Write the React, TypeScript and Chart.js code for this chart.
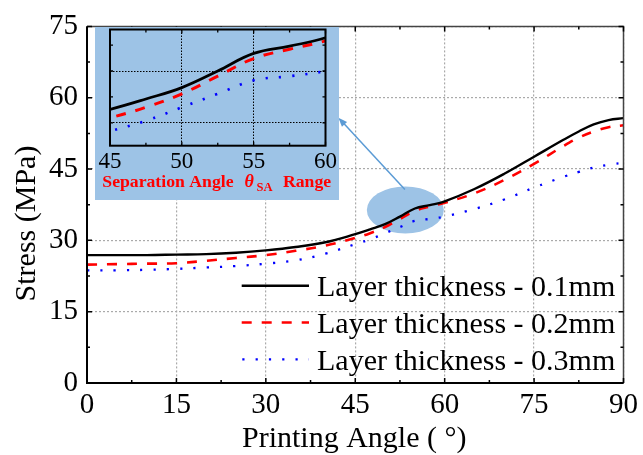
import React, { useEffect, useRef } from "react";
import { Chart, registerables } from "chart.js";

Chart.register(...registerables);

// ---------------- data ----------------
const angles = [0, 5, 10, 15, 20, 25, 30, 35, 40, 45, 47.5, 50, 52.5, 55, 57.5, 60, 65, 70, 75, 80, 82.5, 85, 87.5, 90];
const stress01 = [26.9, 26.9, 26.9, 27.0, 27.1, 27.4, 27.9, 28.6, 29.6, 31.3, 32.3, 33.4, 35.0, 36.7, 37.4, 38.2, 40.8, 44.0, 47.6, 51.2, 52.9, 54.4, 55.3, 55.7];
const stress02 = [24.9, 25.0, 25.1, 25.2, 25.7, 26.3, 26.9, 27.8, 28.9, 30.5, 31.5, 32.8, 34.5, 36.2, 37.1, 37.9, 39.9, 42.7, 46.1, 49.9, 51.6, 52.9, 53.8, 54.2];
const stress03 = [23.7, 23.7, 23.8, 24.0, 24.3, 24.6, 25.1, 25.8, 27.2, 29.2, 30.2, 31.5, 32.8, 34.1, 34.5, 35.0, 36.6, 38.6, 41.1, 43.4, 44.4, 45.3, 45.9, 46.3];
const seriesLabels = ["Layer thickness - 0.1mm", "Layer thickness - 0.2mm", "Layer thickness - 0.3mm"];

const xMin = 0, xMax = 90, xStep = 15, xMinorStep = 7.5;
const yMin = 0, yMax = 75, yStep = 15, yMinorStep = 7.5;

const insetXMin = 45, insetXMax = 60, insetXStep = 5, insetXMinorStep = 2.5;
const insetYMin = 27.8, insetYMax = 39;
const insetYTicks = [30, 35];
const insetYMinorTicks = [32.5, 37.5];

const highlightCenter = { x: 53.4, y: 36.4 };
const arrowFrom = { x: 53.33, y: 40.7 };
const arrowTo = { x: 42.17, y: 55.8 };

const xTitle = "Printing Angle ( °)";
const yTitle = "Stress (MPa)";
const captionMain = "Separation Angle";
const captionTheta = "θ";
const captionSub = "SA";
const captionEnd = "Range";

const FONT = "'Liberation Serif', 'Times New Roman', Times, serif";
const BLUE_BG = "#9dc3e6";

const styles = [
  { color: "#000000", dash: [] as number[], width: 2.4 },
  { color: "#ff0000", dash: [10, 10], width: 2.6 },
  { color: "#0000ff", dash: [2.2, 11.1], width: 2.3 },
];
const seriesData = [stress01, stress02, stress03];

function makeDatasets(widthScale: number) {
  return seriesData.map((vals, i) => ({
    label: seriesLabels[i],
    data: angles.map((a, j) => ({ x: a, y: vals[j] })),
    borderColor: styles[i].color,
    backgroundColor: styles[i].color,
    borderDash: styles[i].dash,
    borderWidth: styles[i].width * widthScale,
    borderCapStyle: "butt" as const,
    pointRadius: 0,
    fill: false,
    tension: 0.4,
  }));
}

function range(a: number, b: number, s: number) {
  const out: number[] = [];
  for (let v = a; v <= b + 1e-9; v += s) out.push(Math.round(v * 1000) / 1000);
  return out;
}

const mainPlugin = {
  id: "mainDecor",
  beforeDatasetsDraw(chart: any) {
    const { ctx, scales } = chart;
    const cx = scales.x.getPixelForValue(highlightCenter.x);
    const cy = scales.y.getPixelForValue(highlightCenter.y);
    ctx.save();
    ctx.fillStyle = BLUE_BG;
    ctx.beginPath();
    ctx.ellipse(cx, cy, 38.5, 23.5, 0, 0, Math.PI * 2);
    ctx.fill();
    ctx.restore();
  },
  afterDatasetsDraw(chart: any) {
    const { ctx, scales, chartArea } = chart;
    const { left, right, top, bottom } = chartArea;
    ctx.save();
    // frame
    ctx.lineWidth = 1.5;
    ctx.strokeStyle = "#444";
    ctx.beginPath();
    ctx.moveTo(left, top);
    ctx.lineTo(right, top);
    ctx.lineTo(right, bottom);
    ctx.stroke();
    ctx.lineWidth = 2;
    ctx.strokeStyle = "#000";
    ctx.beginPath();
    ctx.moveTo(left, top);
    ctx.lineTo(left, bottom);
    ctx.lineTo(right, bottom);
    ctx.stroke();
    // ticks
    ctx.lineWidth = 1.5;
    ctx.strokeStyle = "#000";
    ctx.beginPath();
    range(xMin, xMax, xMinorStep).forEach((v) => {
      const px = scales.x.getPixelForValue(v);
      const len = Math.abs(v % xStep) < 1e-6 ? 5 : 3;
      ctx.moveTo(px, bottom);
      ctx.lineTo(px, bottom - len);
      ctx.moveTo(px, top);
      ctx.lineTo(px, top + len);
    });
    range(yMin, yMax, yMinorStep).forEach((v) => {
      const py = scales.y.getPixelForValue(v);
      const len = Math.abs(v % yStep) < 1e-6 ? 5 : 3;
      ctx.moveTo(left, py);
      ctx.lineTo(left + len, py);
      ctx.moveTo(right, py);
      ctx.lineTo(right - len, py);
    });
    ctx.stroke();

    // arrow
    const x1 = scales.x.getPixelForValue(arrowFrom.x);
    const y1 = scales.y.getPixelForValue(arrowFrom.y);
    const x2 = scales.x.getPixelForValue(arrowTo.x);
    const y2 = scales.y.getPixelForValue(arrowTo.y);
    const ang = Math.atan2(y2 - y1, x2 - x1);
    ctx.strokeStyle = "#5b9bd5";
    ctx.fillStyle = "#5b9bd5";
    ctx.lineWidth = 1.5;
    ctx.beginPath();
    ctx.moveTo(x1, y1);
    ctx.lineTo(x2 - 6 * Math.cos(ang), y2 - 6 * Math.sin(ang));
    ctx.stroke();
    ctx.beginPath();
    ctx.moveTo(x2, y2);
    ctx.lineTo(x2 - 9 * Math.cos(ang) + 3.5 * Math.sin(ang), y2 - 9 * Math.sin(ang) - 3.5 * Math.cos(ang));
    ctx.lineTo(x2 - 9 * Math.cos(ang) - 3.5 * Math.sin(ang), y2 - 9 * Math.sin(ang) + 3.5 * Math.cos(ang));
    ctx.closePath();
    ctx.fill();

    // legend
    const rowY0 = 285.7;
    const rowGap = 36.8;
    ctx.font = `30px ${FONT}`;
    ctx.textAlign = "left";
    ctx.textBaseline = "alphabetic";
    seriesLabels.forEach((lab, i) => {
      const yy = rowY0 + i * rowGap;
      ctx.strokeStyle = styles[i].color;
      ctx.lineWidth = styles[i].width;
      ctx.setLineDash(styles[i].dash);
      ctx.lineCap = "butt";
      ctx.beginPath();
      ctx.moveTo(i === 2 ? 242.3 : 241.7, yy);
      ctx.lineTo(309, yy);
      ctx.stroke();
      ctx.setLineDash([]);
      ctx.fillStyle = "#000";
      ctx.fillText(lab, 317, yy + 10.5);
    });

    // axis titles
    ctx.fillStyle = "#000";
    ctx.font = `30px ${FONT}`;
    ctx.textAlign = "center";
    ctx.fillText(xTitle, (left + right) / 2 - 1, 447);
    ctx.translate(34.5, 223.5);
    ctx.rotate(-Math.PI / 2);
    ctx.fillText(yTitle, 0, 0);
    ctx.restore();
  },
};

const insetPlugin = {
  id: "insetDecor",
  beforeDraw(chart: any) {
    const { ctx, width, height } = chart;
    ctx.save();
    ctx.fillStyle = BLUE_BG;
    ctx.fillRect(0, 0, width, height);
    ctx.restore();
  },
  afterDraw(chart: any) {
    const { ctx, scales, chartArea } = chart;
    const { left, right, top, bottom } = chartArea;
    ctx.save();
    ctx.strokeStyle = "#000";
    ctx.lineWidth = 2;
    ctx.strokeRect(left, top, right - left, bottom - top);
    ctx.lineWidth = 1.3;
    ctx.beginPath();
    range(insetXMin, insetXMax, insetXMinorStep).forEach((v) => {
      const px = scales.x.getPixelForValue(v);
      const len = Math.abs(v % insetXStep) < 1e-6 ? 4 : 3;
      ctx.moveTo(px, bottom);
      ctx.lineTo(px, bottom - len);
      ctx.moveTo(px, top);
      ctx.lineTo(px, top + len);
    });
    [...insetYTicks, ...insetYMinorTicks].forEach((v) => {
      const py = scales.y.getPixelForValue(v);
      ctx.moveTo(left, py);
      ctx.lineTo(left + 3, py);
      ctx.moveTo(right, py);
      ctx.lineTo(right - 3, py);
    });
    ctx.stroke();

    // caption
    ctx.fillStyle = "#ff0000";
    ctx.textBaseline = "alphabetic";
    ctx.textAlign = "left";
    const base = 160.3;
    ctx.font = `bold 17.7px ${FONT}`;
    ctx.fillText(captionMain, 7.3, base);
    ctx.font = `italic bold 18px ${FONT}`;
    ctx.fillText(captionTheta, 149.5, base);
    ctx.font = `bold 12.5px ${FONT}`;
    ctx.fillText(captionSub, 161.5, base + 4);
    ctx.font = `bold 17.7px ${FONT}`;
    ctx.fillText(captionEnd, 188, base);
    ctx.restore();
  },
};

export default function App() {
  const mainRef = useRef<HTMLCanvasElement>(null);
  const insetRef = useRef<HTMLCanvasElement>(null);

  useEffect(() => {
    const gridMain = { color: "#aaaaaa", lineWidth: 1.2, drawTicks: false };
    const main = new Chart(mainRef.current!, {
      type: "line",
      data: { datasets: makeDatasets(1) as any },
      plugins: [mainPlugin],
      options: {
        responsive: false,
        animation: false,
        devicePixelRatio: 1,
        layout: { padding: { top: 20, right: 16, left: 0, bottom: 0 } },
        plugins: { legend: { display: false }, tooltip: { enabled: false } },
        scales: {
          x: {
            type: "linear",
            min: xMin,
            max: xMax,
            ticks: { stepSize: xStep, color: "#000", font: { family: FONT, size: 29 }, padding: 5, maxRotation: 0, autoSkip: false },
            grid: gridMain,
            border: { display: false, dash: [2, 2] },
            afterFit: (s: any) => { s.height = 72; },
          },
          y: {
            type: "linear",
            min: yMin,
            max: yMax,
            ticks: { stepSize: yStep, color: "#000", font: { family: FONT, size: 29 }, padding: 9 },
            grid: gridMain,
            border: { display: false, dash: [2, 2] },
            afterFit: (s: any) => { s.width = 87; },
          },
        },
      } as any,
    });

    const gridInset = { color: "#000", lineWidth: 1, drawTicks: false };
    const inset = new Chart(insetRef.current!, {
      type: "line",
      data: { datasets: makeDatasets(1.15) as any },
      plugins: [insetPlugin],
      options: {
        responsive: false,
        animation: false,
        devicePixelRatio: 1,
        layout: { padding: { top: 2.5, right: 13.3, left: 0, bottom: 0 } },
        plugins: { legend: { display: false }, tooltip: { enabled: false } },
        scales: {
          x: {
            type: "linear",
            min: insetXMin,
            max: insetXMax,
            ticks: { stepSize: insetXStep, color: "#000", font: { family: FONT, size: 23 }, padding: 2, maxRotation: 0, autoSkip: false },
            grid: gridInset,
            border: { display: false, dash: [1.5, 1.5] },
            afterFit: (s: any) => { s.height = 54.3; },
          },
          y: {
            type: "linear",
            min: insetYMin,
            max: insetYMax,
            ticks: { display: false },
            grid: gridInset,
            border: { display: false, dash: [1.5, 1.5] },
            afterBuildTicks: (s: any) => { s.ticks = insetYTicks.map((v) => ({ value: v })); },
            afterFit: (s: any) => { s.width = 15; },
          },
        },
      } as any,
    });

    return () => {
      main.destroy();
      inset.destroy();
    };
  }, []);

  return (
    <div style={{ position: "absolute", left: 0, top: 0, width: 643, height: 455, background: "#fff" }}>
      <canvas ref={mainRef} width={643} height={455} style={{ position: "absolute", left: 0, top: 0 }} />
      <canvas ref={insetRef} width={244} height={173} style={{ position: "absolute", left: 95, top: 27 }} />
    </div>
  );
}
